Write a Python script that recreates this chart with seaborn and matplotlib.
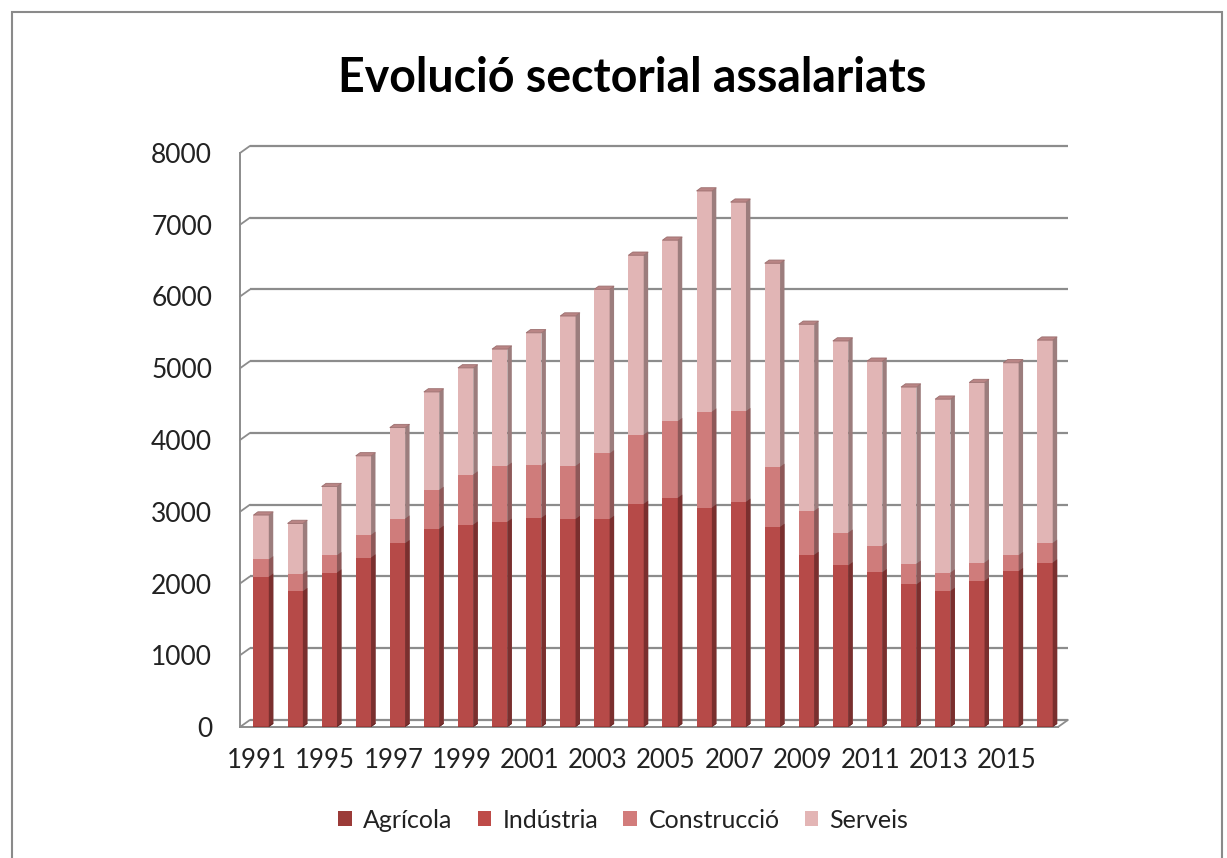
import numpy as np
import pandas as pd
import matplotlib
matplotlib.use("Agg")
import matplotlib.pyplot as plt
import seaborn as sns
from matplotlib.patches import Polygon, Rectangle

# data (front faces of the 3D bars)
years = ["1991", "1993", "1995", "1996", "1997", "1998", "1999", "2000",
         "2001", "2002", "2003", "2004", "2005", "2006", "2007", "2008",
         "2009", "2010", "2011", "2012", "2013", "2014", "2015", "2016"]
agricola = [14, 13, 12, 12, 11, 11, 10, 10, 10, 9, 9, 9,
            9, 8, 8, 8, 8, 8, 7, 7, 7, 7, 7, 7]
industria = [2080, 1880, 2140, 2350, 2550, 2750, 2810, 2850, 2905, 2890, 2890, 3100,
             3185, 3050, 3130, 2780, 2390, 2245, 2150, 1980, 1890, 2030, 2165, 2285]
construccio = [242, 242, 242, 316, 343, 543, 699, 781, 730, 739, 915, 966,
               1069, 1338, 1264, 837, 613, 455, 363, 288, 256, 255, 223, 274]
serveis = [618, 702, 957, 1101, 1269, 1366, 1486, 1626, 1849, 2090, 2286, 2500,
           2522, 3075, 2913, 2838, 2602, 2672, 2578, 2463, 2416, 2509, 2681, 2826]

series = ["Agrícola", "Indústria", "Construcció", "Serveis"]
front_col = {"Agrícola": "#9b3b38", "Indústria": "#b64a48",
             "Construcció": "#cf7c7b", "Serveis": "#e1b5b5"}
side_col = {"Agrícola": "#5e2322", "Indústria": "#7a2f2e",
            "Construcció": "#8e5858", "Serveis": "#9c7d7d"}
legend_col = {"Agrícola": "#9b3b38", "Indústria": "#be4b48",
              "Construcció": "#d27c7b", "Serveis": "#e3b5b5"}

df = pd.DataFrame({"Any": years, "Agrícola": agricola, "Indústria": industria,
                   "Construcció": construccio, "Serveis": serveis})
cum = df[series].cumsum(axis=1)

sns.set_style("white")
plt.rcParams["font.family"] = ["Lato", "DejaVu Sans"]

W, H = 1227, 858
fig = plt.figure(figsize=(W / 100, H / 100), dpi=100)
ax = fig.add_axes([240 / W, 1 - 727 / H, 818 / W, 574 / H])

DX, DY = 0.29, 98      # offset of the back wall
BDX, BDY = 0.13, 45    # depth of each bar
SHIFT = 0.12           # bars sit a little behind the front plane
grid_c = "#8c8c8c"

# stacked bars: draw cumulative totals, tallest first
for name in series[::-1]:
    n0 = len(ax.patches)
    sns.barplot(x=df["Any"], y=cum[name], color=front_col[name], saturation=1,
                width=0.45, errorbar=None, ax=ax, zorder=3, linewidth=0)
    new = list(ax.patches[n0:])
    for p in new:
        p.set_x(p.get_x() + SHIFT)
        x0, y0, w, h = p.get_x(), p.get_y(), p.get_width(), p.get_height()
        ax.add_patch(Polygon([(x0 + w, y0), (x0 + w + BDX, y0 + BDY),
                              (x0 + w + BDX, y0 + h + BDY), (x0 + w, y0 + h)],
                             closed=True, facecolor=side_col[name], lw=0, zorder=3))
        if name == "Serveis":
            ax.add_patch(Polygon([(x0, y0 + h), (x0 + BDX, y0 + h + BDY),
                                  (x0 + w + BDX, y0 + h + BDY), (x0 + w, y0 + h)],
                                 closed=True, facecolor="#b98585", edgecolor="#9c6e6e",
                                 lw=0.6, zorder=3))

ax.set_xlim(-0.5, 23.5)
ax.set_ylim(0, 8000)

# 3D-looking back wall gridlines
yt = np.arange(0, 8001, 1000)
for v in yt:
    ax.plot([-0.5 + DX, 23.5 + DX], [v + DY, v + DY], color=grid_c, lw=1.6,
            clip_on=False, zorder=1, solid_capstyle="butt")
    ax.plot([-0.5, -0.5 + DX], [v, v + DY], color=grid_c, lw=1.3, clip_on=False, zorder=1)
ax.plot([23.5, 23.5 + DX], [0, DY], color=grid_c, lw=1.3, clip_on=False, zorder=1)

for s in ["top", "right"]:
    ax.spines[s].set_visible(False)
for s in ["left", "bottom"]:
    ax.spines[s].set_color(grid_c)
    ax.spines[s].set_linewidth(1.4)

ax.set_yticks(yt)
ax.set_yticklabels([str(v) for v in yt])
ax.tick_params(axis="y", direction="out", length=8, width=1.3, color=grid_c,
               pad=12, labelsize=19, labelcolor="#222222")

ax.set_xticks(range(0, 24, 2))
ax.set_xticklabels(years[::2])
ax.set_xticks(np.arange(-0.5, 24, 1), minor=True)
ax.tick_params(axis="x", which="major", length=0, pad=15, labelsize=18.5,
               labelcolor="#222222")
ax.tick_params(axis="x", which="minor", direction="out", length=8, width=1.3,
               color=grid_c)
ax.set_xlabel("")
ax.set_ylabel("")
ax.patch.set_alpha(0)

fig.text(632 / W, 1 - 78 / H, "Evolució sectorial assalariats", ha="center",
         va="center", fontsize=33.5, fontweight="bold", color="black")

handles = [Rectangle((0, 0), 1, 1, facecolor=legend_col[s], lw=0) for s in series]
fig.legend(handles, series, loc="center", bbox_to_anchor=(0.508, 1 - 820 / H),
           ncol=4, frameon=False, fontsize=18, handlelength=0.55, handleheight=0.55,
           handletextpad=0.45, columnspacing=1.0, labelcolor="#222222")

fig.add_artist(Rectangle((12 / W, -0.01), 1210 / W, 1 - 12 / H + 0.01,
                         transform=fig.transFigure, fill=False,
                         edgecolor="#8a8a8a", lw=1.5))

fig.savefig("out.png", dpi=100)
